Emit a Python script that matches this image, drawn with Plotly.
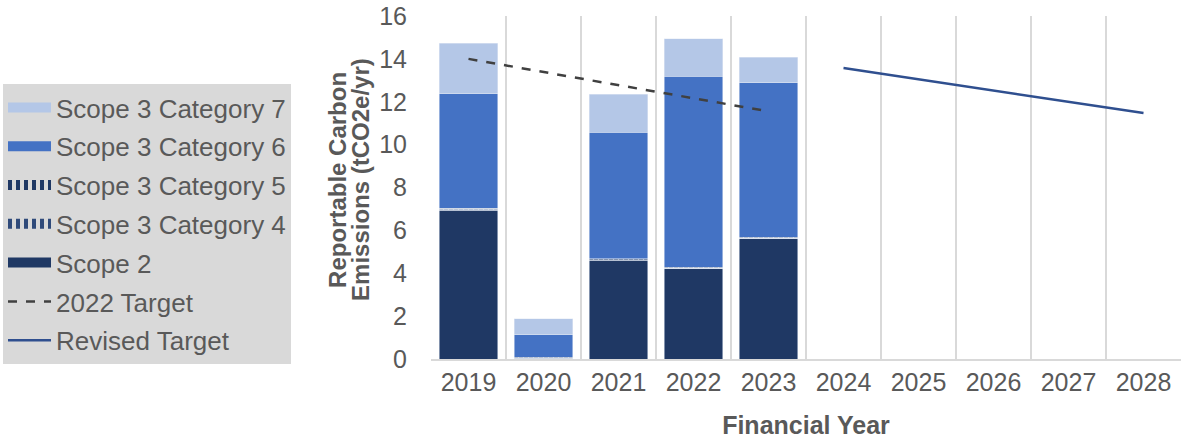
import plotly.graph_objects as go

years = ["2019", "2020", "2021", "2022", "2023", "2024", "2025", "2026", "2027", "2028"]
bar_years = ["2019", "2020", "2021", "2022", "2023"]
scope2 = [6.95, 0.0, 4.6, 4.2, 5.6]
cat4 = [0.04, 0.04, 0.04, 0.04, 0.04]
cat5 = [0.04, 0.04, 0.04, 0.04, 0.04]
cat6 = [5.35, 1.05, 5.9, 8.9, 7.2]
cat7 = [2.36, 0.75, 1.76, 1.75, 1.2]
target2022_years = ["2019", "2023"]
target2022 = [14.0, 11.55]
revised_years = ["2024", "2028"]
revised = [13.57, 11.47]
ytitle_lines = ["Reportable Carbon", "Emissions (tCO2e/yr)"]

NAVY = "#1f3864"
FS = 25
GREY = "#595959"
fig = go.Figure()

def add_stack(y, name, rank, color, pattern=None):
    marker = dict(color=color)
    if pattern:
        marker["pattern"] = pattern
    fig.add_bar(x=bar_years, y=y, name=name, marker=marker, legendgroup=name,
                showlegend=False, legendrank=rank)
    # wide legend swatch
    fig.add_scatter(x=[None, None], y=[None, None], mode="lines", name=name,
                    legendgroup=name, legendrank=rank,
                    line=dict(color=color, width=14,
                              dash="4px,4px" if pattern else "solid"))

add_stack(scope2, "Scope 2", 5, NAVY)
add_stack(cat4, "Scope 3 Category 4", 4, "#2f4a7a",
          dict(shape="+", fgcolor="white", bgcolor="#2f4a7a", size=5, solidity=0.4))
add_stack(cat5, "Scope 3 Category 5", 3, NAVY,
          dict(shape="+", fgcolor="white", bgcolor=NAVY, size=5, solidity=0.4))
add_stack(cat6, "Scope 3 Category 6", 2, "#4472c4")
add_stack(cat7, "Scope 3 Category 7", 1, "#b4c7e7")
fig.add_scatter(x=target2022_years, y=target2022, mode="lines", name="2022 Target",
                line=dict(color="#404040", width=2.5, dash="dash"), legendrank=6)
fig.add_scatter(x=revised_years, y=revised, mode="lines", name="Revised Target",
                line=dict(color="#2f4f8f", width=2.5), legendrank=7)

plot_left, plot_w = 431, 750
for txt, px in zip(ytitle_lines, [338, 361]):
    fig.add_annotation(text=f"<b>{txt}</b>", textangle=-90, showarrow=False,
                       xref="paper", yref="paper", x=(px - plot_left) / plot_w, y=0.522,
                       xanchor="center", yanchor="middle",
                       font=dict(size=FS - 1, color=GREY))

fig.update_layout(
    width=1184, height=439,
    barmode="stack", bargap=0.22,
    plot_bgcolor="white", paper_bgcolor="white",
    margin=dict(l=431, r=3, t=16, b=80, autoexpand=False),
    font=dict(family="Liberation Sans, Arial", color=GREY, size=FS),
    legend=dict(x=(3 - plot_left) / plot_w, xanchor="left", y=(359 - 84) / 343, yanchor="top",
                bgcolor="#d9d9d9", font=dict(size=26, color=GREY),
                tracegroupgap=2, itemwidth=43),
    xaxis=dict(categoryorder="array", categoryarray=years, type="category",
               tickson="boundaries", showgrid=True, gridcolor="#d9d9d9", gridwidth=1.5,
               showline=True, linecolor="#d9d9d9", linewidth=1.5, ticks="",
               tickfont=dict(size=FS, color=GREY), automargin=False,
               title=dict(text="<b>Financial Year</b>", font=dict(size=FS, color=GREY), standoff=28),
               range=[-0.5, 9.5]),
    yaxis=dict(range=[0, 16], dtick=2, showgrid=False, zeroline=False, automargin=False,
               tickfont=dict(size=FS, color=GREY), ticks="", ticklabelstandoff=23),
)
fig.write_html("out.html", config={"displayModeBar": False},
               post_script="document.body.style.margin='0';document.body.style.padding='0';")
